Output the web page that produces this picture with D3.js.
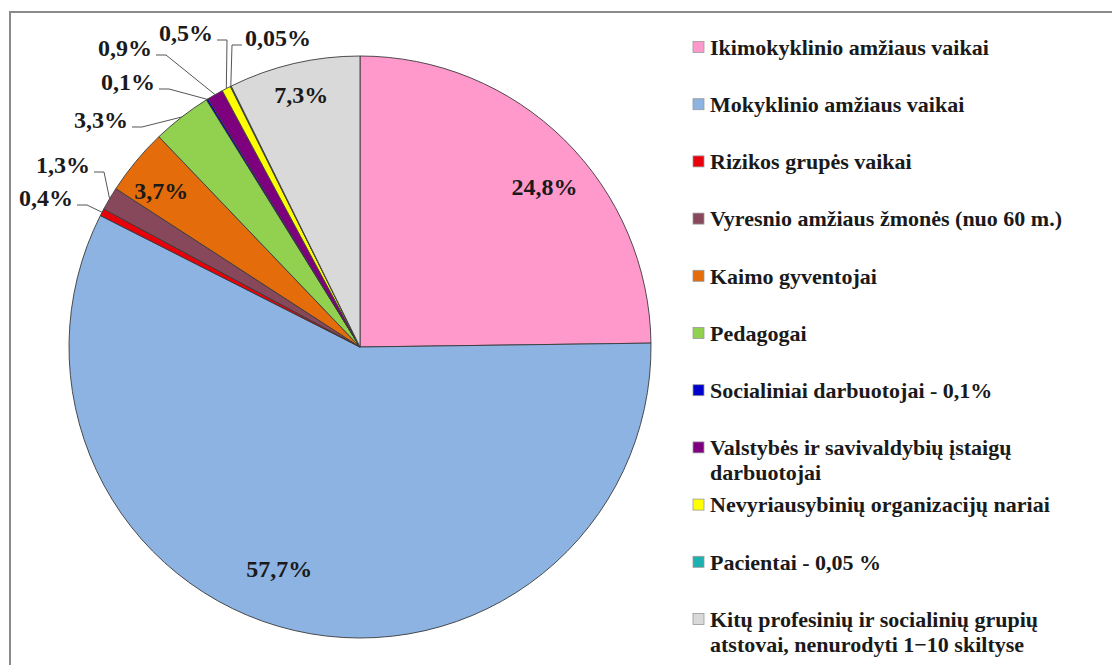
<!DOCTYPE html>
<html>
<head>
<meta charset="utf-8">
<script src="https://cdn.jsdelivr.net/npm/d3@7/dist/d3.min.js"></script>
<style>
  html, body { margin: 0; padding: 0; background: #ffffff; }
  svg { display: block; }
</style>
</head>
<body>
<svg id="chart" width="1112" height="665"></svg>
<script>
// ---- data ----
const categories = [
  "Ikimokyklinio amžiaus vaikai",
  "Mokyklinio amžiaus vaikai",
  "Rizikos grupės vaikai",
  "Vyresnio amžiaus žmonės (nuo 60 m.)",
  "Kaimo gyventojai",
  "Pedagogai",
  "Socialiniai darbuotojai - 0,1%",
  "Valstybės ir savivaldybių įstaigų|darbuotojai",
  "Nevyriausybinių organizacijų nariai",
  "Pacientai - 0,05 %",
  "Kitų profesinių ir socialinių grupių|atstovai, nenurodyti 1−10 skiltyse"
];
const values = [24.8, 57.7, 0.4, 1.3, 3.7, 3.3, 0.1, 0.9, 0.5, 0.05, 7.3];
const valueLabels = ["24,8%", "57,7%", "0,4%", "1,3%", "3,7%", "3,3%", "0,1%", "0,9%", "0,5%", "0,05%", "7,3%"];
const colors = ["#FF99CC", "#8DB3E2", "#E8000B", "#86485A", "#E46C0A", "#92D050",
                "#0000CC", "#7F007F", "#FFFF00", "#1FB0B0", "#D9D9D9"];

// ---- layout ----
const W = 1112, H = 665;
const cx = 360, cy = 347, R = 291;
const svg = d3.select("#chart");
const FONT = "Liberation Serif";

svg.append("rect").attr("x", 0).attr("y", 0).attr("width", W).attr("height", H).attr("fill", "#fff");
// frame
svg.append("rect").attr("x", 10).attr("y", 12).attr("width", W + 20).attr("height", H + 20)
  .attr("fill", "none").attr("stroke", "#8a8a8a").attr("stroke-width", 2);

const pie = d3.pie().sort(null).value(d => d)(values);
const arc = d3.arc().innerRadius(0).outerRadius(R);
const g = svg.append("g").attr("transform", `translate(${cx},${cy})`);

g.selectAll("path.slice").data(pie).enter().append("path")
  .attr("class", "slice")
  .attr("d", arc)
  .attr("fill", (d, i) => colors[i])
  .attr("stroke", "#3a3a3a")
  .attr("stroke-width", 0.9)
  .attr("stroke-linejoin", "round");

// inside labels: radius fraction and angular nudge (degrees) from the slice middle
const insideLayout = {
  0: { r: 0.84, da: 4.4 },
  1: { r: 0.81, da: 7 },
  4: { r: 0.87, da: -1.4 },
  10: { r: 0.89, da: 0 }
};
pie.forEach((d, i) => {
  const L = insideLayout[i];
  if (!L) return;
  const a = (d.startAngle + d.endAngle) / 2 + L.da * Math.PI / 180;
  g.append("text")
    .attr("x", R * L.r * Math.sin(a)).attr("y", -R * L.r * Math.cos(a))
    .attr("text-anchor", "middle")
    .attr("dy", "0.35em")
    .style("font-family", FONT).style("font-weight", "bold").style("font-size", "24px")
    .attr("fill", "#1a1a1a")
    .text(valueLabels[i]);
});

// outside labels: text anchor point (relative to the pie centre), side
const outsideLayout = {
  2: { x: -287, y: -149, side: "end" },
  3: { x: -270, y: -182, side: "end" },
  5: { x: -232, y: -227, side: "end" },
  6: { x: -205, y: -265, side: "end" },
  7: { x: -208, y: -299, side: "end" },
  8: { x: -147, y: -314, side: "end" },
  9: { x: -115, y: -309, side: "start" }
};
pie.forEach((d, i) => {
  const L = outsideLayout[i];
  if (!L) return;
  const a = (d.startAngle + d.endAngle) / 2;
  const ex = R * Math.sin(a), ey = -R * Math.cos(a);
  g.append("text")
    .attr("x", L.x).attr("y", L.y)
    .attr("text-anchor", L.side)
    .attr("dy", "0.35em")
    .style("font-family", FONT).style("font-weight", "bold").style("font-size", "24px")
    .attr("fill", "#1a1a1a")
    .text(valueLabels[i]);
  const sx = L.side === "end" ? L.x + 4 : L.x - 3;
  const sy = L.y + 7;
  const elbowX = L.side === "end" ? sx + 10 : sx - 10;
  g.append("polyline")
    .attr("points", `${sx},${sy} ${elbowX},${sy} ${ex},${ey}`)
    .attr("fill", "none").attr("stroke", "#555").attr("stroke-width", 1);
});

// legend
const legend = svg.append("g");
const ly0 = 47, lstep = 57.2;
categories.forEach((c, i) => {
  const y = ly0 + i * lstep;
  legend.append("rect")
    .attr("x", 693).attr("y", y - 5.5).attr("width", 11).attr("height", 11)
    .attr("fill", colors[i]).attr("stroke", "#9a9a9a").attr("stroke-width", 0.8);
  const lines = c.split("|");
  lines.forEach((ln, k) => {
    legend.append("text")
      .attr("x", 710).attr("y", y + k * 25)
      .attr("dy", "0.35em")
      .style("font-family", FONT).style("font-weight", "bold").style("font-size", "22px")
      .attr("fill", "#1a1a1a")
      .text(ln);
  });
});
</script>
</body>
</html>
